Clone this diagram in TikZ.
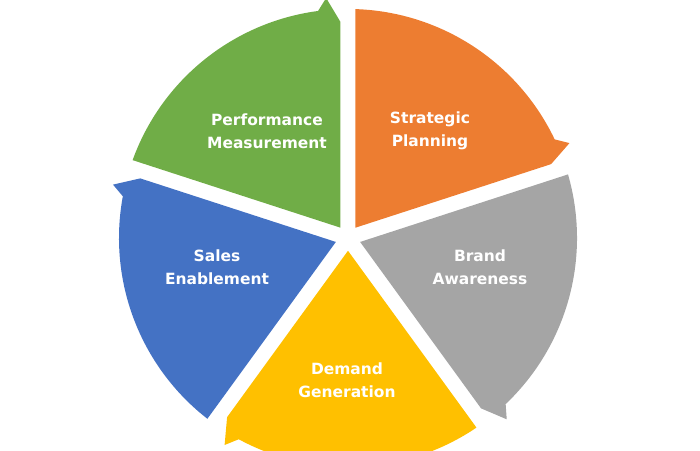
\documentclass[tikz,border=0pt]{standalone}
\usepackage{fontspec}
\setmainfont{DejaVu Sans}
\usepackage{xcolor}
\usepackage{tikz}
\usetikzlibrary{calc}
\definecolor{leafgreen}{HTML}{70AD47}
\definecolor{sunorange}{HTML}{ED7D31}
\definecolor{midgray}{HTML}{A5A5A5}
\definecolor{goldyellow}{HTML}{FFC000}
\definecolor{officeblue}{HTML}{4472C4}
\tikzset{
    every picture/.style={line join=round},
    segment/.style={draw=none},
    seglabel/.style={text=white,font=\bfseries\fontsize{11}{16.5}\selectfont,
      align=center,inner sep=1pt}
}
\begin{document}
\begin{tikzpicture}[x=0.025cm,y=0.025cm]
  \useasboundingbox (-348,-212) rectangle (352,238);
  \foreach \a/\col in {162/leafgreen,90/sunorange,18/midgray,-54/goldyellow,-126/officeblue} {
    \fill[segment,\col] (\a-36:12.76) -- ($(\a:228.9)+(\a-90:7.5)$)
      arc[start angle=\a-1.88,end angle=\a-64.5,radius=229]
      -- (\a-66.8:241) -- ($(\a-72:216)+(\a+18:7.5)$) -- cycle;
  }
  \foreach \name/\x/\y/\txt in {perf/-81/107/{Performance\\Measurement},
      strat/82/107/{Strategic\\Planning},
      sales/-131/-29/{Sales\\Enablement},
      brand/132/-29/{Brand\\Awareness},
      demand/-1/-142/{Demand\\Generation}} {
    \node[seglabel] (\name) at (\x,\y) {\txt};
  }
\end{tikzpicture}
\end{document}
